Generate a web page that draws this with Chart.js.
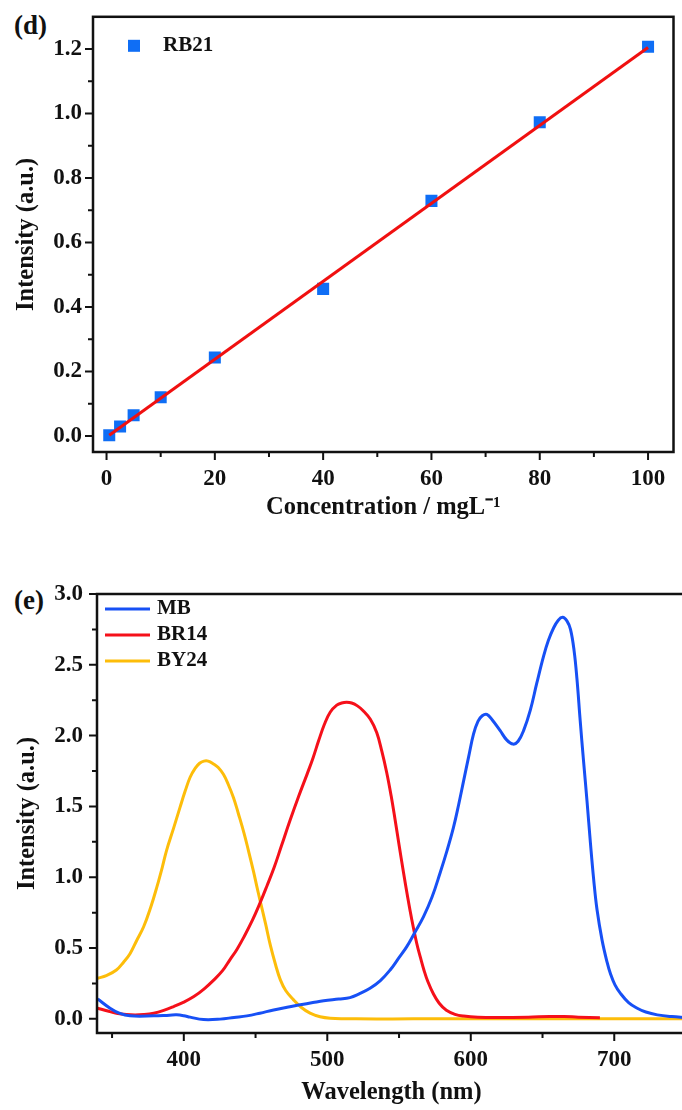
<!DOCTYPE html>
<html>
<head>
<meta charset="utf-8">
<script src="https://cdn.jsdelivr.net/npm/chart.js@4.4.1/dist/chart.umd.min.js"></script>
<style>
    body { margin: 0; background: #fff; width: 682px; height: 1110px; overflow: hidden; position: relative; }
    .painel { position: absolute; left: 14px; font-family: "Liberation Serif", "Times New Roman", serif; font-weight: bold; font-size: 27px; color: #111; }
    #box_d { position: absolute; left: 0; top: 0; }
    #box_e { position: absolute; left: 0; top: 560px; }
</style>
</head>
<body>
<div class="painel" style="top: 10px">(d)</div>
<div class="painel" style="top: 585px">(e)</div>
<div id="box_d"><canvas id="chart_d" width="682" height="530"></canvas></div>
<div id="box_e"><canvas id="chart_e" width="690" height="550"></canvas></div>

<script>
// (d) curva de calibração RB21
var concentracao = [0.5, 2.5, 5, 10, 20, 40, 60, 80, 100];
var intensidadeRB21 = [0.002, 0.029, 0.064, 0.12, 0.243, 0.456, 0.729, 0.973, 1.207];
var ajusteX = [0.5, 100];
var ajusteY = [0.002, 1.205];

var ticksXd = [0, 20, 40, 60, 80, 100];
var menoresXd = [10, 30, 50, 70, 90];
var ticksYd = [0, 0.2, 0.4, 0.6, 0.8, 1.0, 1.2];
var menoresYd = [0.1, 0.3, 0.5, 0.7, 0.9, 1.1];

// (e) espectros de absorção
var ondaMB = [340, 348.6, 355, 362.5, 379, 390, 395, 400, 404.4, 413.7, 425.3, 435, 444, 453, 462.6, 472, 481.2, 490, 497.5, 508, 515.8, 522, 529.8, 537, 543.8, 549.5, 555.4, 561, 567, 573, 578.6, 583.5, 587.9, 591.5, 595, 598.5, 601.9, 605, 608, 611.2, 615, 620.5, 625, 629.5, 633, 636.8, 641.5, 646, 650.7, 654, 657.7, 661, 664, 667, 669.5, 672, 674, 676.3, 678.6, 681, 683.4, 685.7, 688, 691.5, 695, 697.3, 700.5, 704.3, 710, 716, 722, 730, 740, 750];
var intensidadeMB = [0.14, 0.075, 0.04, 0.021, 0.021, 0.026, 0.028, 0.022, 0.012, -0.005, -0.002, 0.01, 0.021, 0.04, 0.063, 0.082, 0.099, 0.115, 0.128, 0.14, 0.15, 0.175, 0.216, 0.27, 0.345, 0.425, 0.51, 0.61, 0.72, 0.86, 1.03, 1.19, 1.35, 1.51, 1.68, 1.85, 2.01, 2.10, 2.14, 2.15, 2.11, 2.035, 1.97, 1.94, 1.96, 2.035, 2.18, 2.37, 2.56, 2.67, 2.76, 2.815, 2.835, 2.81, 2.75, 2.60, 2.40, 2.10, 1.82, 1.54, 1.24, 0.98, 0.77, 0.556, 0.40, 0.32, 0.24, 0.18, 0.115, 0.075, 0.048, 0.028, 0.016, 0.01];

var ondaBR14 = [340, 347, 353, 360, 366, 372, 379, 386, 393, 400, 407, 414, 421, 427, 432, 437, 442, 448, 453, 458, 463, 468, 474, 480, 486, 490, 494, 498, 502, 506.6, 510, 513.5, 517, 521, 525, 530, 534.5, 538, 541.4, 544.5, 547.2, 550, 553, 556, 558.9, 562.4, 565, 567.5, 570, 574, 578, 583, 589, 595, 605, 620, 640, 655, 665, 675, 690];
var intensidadeBR14 = [0.075, 0.055, 0.04, 0.03, 0.027, 0.03, 0.04, 0.06, 0.087, 0.118, 0.157, 0.21, 0.275, 0.34, 0.415, 0.49, 0.58, 0.70, 0.815, 0.94, 1.07, 1.22, 1.40, 1.57, 1.73, 1.84, 1.965, 2.08, 2.165, 2.215, 2.23, 2.235, 2.23, 2.21, 2.176, 2.115, 2.02, 1.89, 1.74, 1.575, 1.41, 1.23, 1.04, 0.86, 0.70, 0.53, 0.43, 0.34, 0.265, 0.175, 0.11, 0.06, 0.032, 0.02, 0.012, 0.01, 0.012, 0.016, 0.016, 0.012, 0.008];

var ondaBY24 = [340, 346, 353, 358, 362.5, 367, 372, 377, 381.2, 385, 388, 393, 397.4, 401, 404.4, 408, 411, 414, 417, 420.7, 424, 427.7, 431, 434.7, 438, 442, 445, 448.6, 451, 453.3, 457, 460.3, 464, 467.3, 471, 476.5, 482, 488, 495, 502, 520, 560, 600, 650, 700, 750];
var intensidadeBY24 = [0.287, 0.305, 0.345, 0.40, 0.46, 0.55, 0.65, 0.79, 0.93, 1.07, 1.19, 1.35, 1.495, 1.61, 1.706, 1.77, 1.805, 1.82, 1.82, 1.80, 1.775, 1.725, 1.655, 1.56, 1.45, 1.31, 1.19, 1.04, 0.93, 0.83, 0.67, 0.52, 0.38, 0.275, 0.20, 0.134, 0.08, 0.04, 0.015, 0.005, 0, 0, 0, 0, 0, 0];

var ticksXe = [400, 500, 600, 700];
var menoresXe = [350, 450, 550, 650, 750];
var ticksYe = [0, 0.5, 1.0, 1.5, 2.0, 2.5, 3.0];
var menoresYe = [0.25, 0.75, 1.25, 1.75, 2.25, 2.75];

var fonte = '"Liberation Serif", "Times New Roman", serif';
var preto = '#111';

function pontos(xs, ys) {
    return xs.map(function (v, i) { return { x: v, y: ys[i] }; });
}

// moldura, ticks menores e legenda desenhados por cima do gráfico
function criarMoldura(xMaior, xMenor, yMaior, yMenor, desenharLegenda) {
    return {
        id: 'moldura',
        afterDraw: function (chart) {
            const ctx = chart.ctx;
            const a = chart.chartArea;
            const x = chart.scales.x;
            const y = chart.scales.y;
            ctx.save();
            ctx.strokeStyle = preto;
            ctx.lineWidth = 2.5;
            ctx.strokeRect(a.left, a.top, a.right - a.left, a.bottom - a.top);

            ctx.lineWidth = 2;
            ctx.beginPath();
            xMaior.forEach(function (v) { let p = x.getPixelForValue(v); ctx.moveTo(p, a.bottom); ctx.lineTo(p, a.bottom + 8); });
            xMenor.forEach(function (v) { let p = x.getPixelForValue(v); ctx.moveTo(p, a.bottom); ctx.lineTo(p, a.bottom + 5); });
            yMaior.forEach(function (v) { let p = y.getPixelForValue(v); ctx.moveTo(a.left, p); ctx.lineTo(a.left - 8, p); });
            yMenor.forEach(function (v) { let p = y.getPixelForValue(v); ctx.moveTo(a.left, p); ctx.lineTo(a.left - 5, p); });
            ctx.stroke();

            desenharLegenda(chart, ctx, a);
            ctx.restore();
        }
    };
}

function legendaD(chart, ctx, a) {
    const ds = chart.data.datasets[0];
    ctx.fillStyle = ds.backgroundColor;
    ctx.fillRect(a.left + 35, a.top + 23, 12, 12);
    ctx.fillStyle = preto;
    ctx.font = 'bold 21px ' + fonte;
    ctx.textBaseline = 'middle';
    ctx.fillText(ds.label, a.left + 70, a.top + 29);
}

function legendaE(chart, ctx, a) {
    chart.data.datasets.forEach(function (ds, i) {
        let yy = a.top + 15 + i * 26;
        ctx.strokeStyle = ds.borderColor;
        ctx.lineWidth = 3;
        ctx.beginPath();
        ctx.moveTo(a.left + 8, yy);
        ctx.lineTo(a.left + 53, yy);
        ctx.stroke();
        ctx.fillStyle = preto;
        ctx.font = 'bold 21px ' + fonte;
        ctx.textBaseline = 'middle';
        ctx.fillText(ds.label, a.left + 60, yy);
    });
}

function eixo(min, max, ticks, casas, largura, titulo, pad, tituloPad) {
    return {
        type: 'linear',
        min: min,
        max: max,
        afterBuildTicks: function (s) { s.ticks = ticks.map(function (v) { return { value: v }; }); },
        afterFit: function (s) { if (s.isHorizontal()) { s.height = largura; } else { s.width = largura; } },
        grid: { display: false },
        border: { display: false },
        ticks: {
            autoSkip: false,
            maxRotation: 0,
            padding: pad,
            color: preto,
            font: { family: fonte, size: 23, weight: 'bold' },
            callback: function (v) { return casas === null ? String(v) : v.toFixed(casas); }
        },
        title: {
            display: true,
            text: titulo,
            color: preto,
            padding: tituloPad,
            font: { family: fonte, size: 24.5, weight: 'bold', lineHeight: 1.2 }
        }
    };
}

Chart.defaults.font.family = fonte;

new Chart(document.getElementById('chart_d'), {
    type: 'scatter',
    data: {
        datasets: [{
            label: 'RB21',
            data: pontos(concentracao, intensidadeRB21),
            pointStyle: 'rect',
            pointRadius: 8.5,
            pointBorderWidth: 0,
            backgroundColor: '#0f6ef5',
            borderColor: '#0f6ef5',
            order: 1
        }, {
            label: 'Ajuste',
            data: pontos(ajusteX, ajusteY),
            showLine: true,
            pointRadius: 0,
            borderColor: '#f01010',
            borderWidth: 3,
            order: 0
        }]
    },
    options: {
        responsive: false,
        animation: false,
        devicePixelRatio: 1,
        layout: { padding: { top: 16, right: 1, left: 0, bottom: 0 } },
        plugins: { legend: { display: false }, tooltip: { enabled: false } },
        scales: {
            x: eixo(-2.5, 104.7, ticksXd, null, 78, 'Concentration / mgL\u207B\u00B9', 5, { top: 0, bottom: 8 }),
            y: eixo(-0.05, 1.3, ticksYd, 1, 93, 'Intensity (a.u.)', 3, { top: 12, bottom: 0 })
        }
    },
    plugins: [criarMoldura(ticksXd, menoresXd, ticksYd, menoresYd, legendaD)]
});

new Chart(document.getElementById('chart_e'), {
    type: 'scatter',
    data: {
        datasets: [{
            label: 'MB',
            data: pontos(ondaMB, intensidadeMB),
            borderColor: '#1750f5'
        }, {
            label: 'BR14',
            data: pontos(ondaBR14, intensidadeBR14),
            borderColor: '#f5101a'
        }, {
            label: 'BY24',
            data: pontos(ondaBY24, intensidadeBY24),
            borderColor: '#fdbd0a'
        }].map(function (d) {
            d.showLine = true;
            d.pointRadius = 0;
            d.borderWidth = 3;
            d.tension = 0.4;
            return d;
        })
    },
    options: {
        responsive: false,
        animation: false,
        devicePixelRatio: 1,
        layout: { padding: { top: 34, right: 4, left: 0, bottom: 0 } },
        plugins: { legend: { display: false }, tooltip: { enabled: false } },
        scales: {
            x: eixo(339.5, 750, ticksXe, null, 77, 'Wavelength (nm)', 5, { top: 0, bottom: 3 }),
            y: eixo(-0.1, 3.0, ticksYe, 1, 97, 'Intensity (a.u.)', 6, { top: 13, bottom: 0 })
        }
    },
    plugins: [criarMoldura(ticksXe, menoresXe, ticksYe, menoresYe, legendaE)]
});
</script>
</body>
</html>
